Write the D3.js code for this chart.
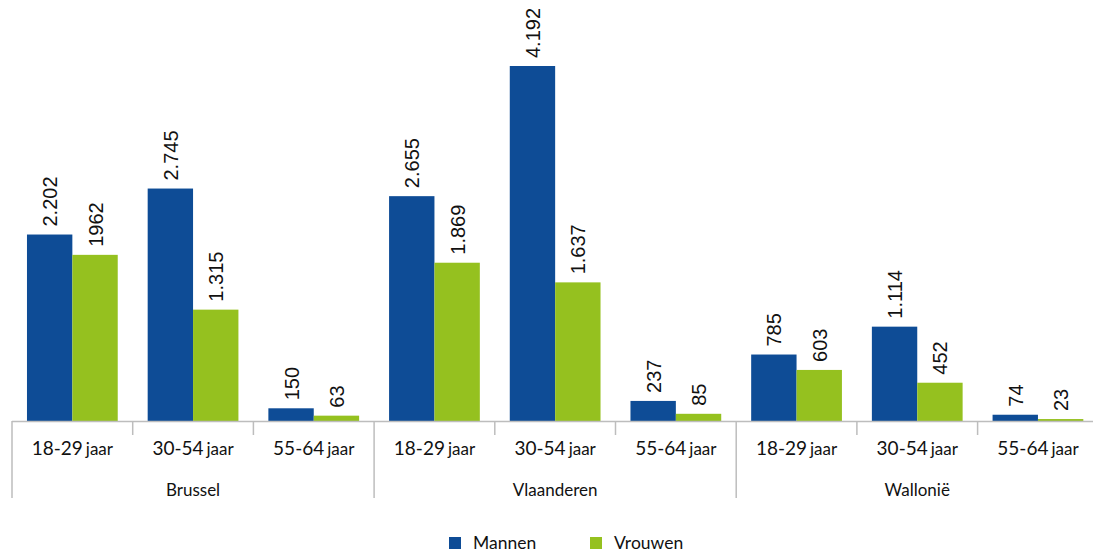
<!DOCTYPE html>
<html><head><meta charset="utf-8">
<script src="https://cdn.jsdelivr.net/npm/d3@7"></script>
<style>body{margin:0;background:#fff}svg{display:block}</style>
</head><body>
<svg id="c" width="1093" height="552"></svg>
<script>
const regions = ["Brussel", "Vlaanderen", "Wallonië"];
const ageGroups = ["18-29", "30-54", "55-64"];
const seriesNames = ["Mannen", "Vrouwen"];
const mannen = [2202, 2745, 150, 2655, 4192, 237, 785, 1114, 74];
const vrouwen = [1962, 1315, 63, 1869, 1637, 85, 603, 452, 23];
const mannenLabels = ["2.202", "2.745", "150", "2.655", "4.192", "237", "785", "1.114", "74"];
const vrouwenLabels = ["1962", "1.315", "63", "1.869", "1.637", "85", "603", "452", "23"];

const colors = ["#0E4C96", "#95C11F"];
const svg = d3.select("#c");
const baseY = 421, left = 12, band = 120.7;

const cats = [];
regions.forEach(r => ageGroups.forEach(a => cats.push(r + "|" + a)));
const x = d3.scaleBand().domain(cats).range([left, left + band * 9]).paddingInner(0).paddingOuter(0);
const xs = d3.scaleBand().domain(seriesNames).range([0, x.bandwidth()]).paddingInner(0).paddingOuter(0.33);
const y = d3.scaleLinear().domain([0, 4192]).range([baseY, 66]);

const data = cats.map((c, i) => ({cat: c, vals: [
  {s: "Mannen", v: mannen[i], l: mannenLabels[i]},
  {s: "Vrouwen", v: vrouwen[i], l: vrouwenLabels[i]}]}));

const g = svg.selectAll("g.cat").data(data).enter().append("g")
  .attr("transform", d => `translate(${x(d.cat)},0)`);
g.selectAll("rect").data(d => d.vals).enter().append("rect")
  .attr("x", d => xs(d.s)).attr("width", xs.bandwidth())
  .attr("y", d => y(d.v)).attr("height", d => baseY - y(d.v))
  .attr("fill", (d, i) => colors[i]);
g.selectAll("text.val").data(d => d.vals).enter().append("text")
  .attr("class", "val")
  .attr("transform", d => `translate(${xs(d.s) + xs.bandwidth() / 2 + 7.5},${y(d.v) - 8}) rotate(-90)`)
  .attr("text-anchor", "start")
  .attr("font-family", "Liberation Sans, Arial, sans-serif")
  .attr("font-size", 20).attr("fill", "#111")
  .text(d => d.l);

// axis
const axisCol = "#BDBDBD";
svg.append("line").attr("x1", left).attr("x2", 1093).attr("y1", baseY + 0.5).attr("y2", baseY + 0.5)
  .attr("stroke", axisCol).attr("stroke-width", 1.5);
cats.forEach((c, i) => {
  const xx = x(c);
  const long = i % 3 === 0;
  svg.append("line").attr("x1", xx).attr("x2", xx).attr("y1", baseY)
    .attr("y2", long ? 498 : 435).attr("stroke", axisCol).attr("stroke-width", 1.5);
  const t = svg.append("text").attr("x", xx + band / 2).attr("y", 455)
    .attr("text-anchor", "middle").attr("font-family", "Lato, sans-serif").attr("fill", "#111");
  t.append("tspan").attr("font-size", 19).text(c.split("|")[1]);
  t.append("tspan").attr("font-size", 17).attr("dx", 3).text("jaar");
});
svg.append("line").attr("x1", left + band * 9).attr("x2", left + band * 9).attr("y1", baseY).attr("y2", 498)
  .attr("stroke", axisCol).attr("stroke-width", 1.5);
regions.forEach((r, i) => {
  svg.append("text").attr("x", left + band * (3 * i + 1.5)).attr("y", 496)
    .attr("text-anchor", "middle").attr("font-family", "Lato, sans-serif")
    .attr("font-size", 17).attr("fill", "#111").text(r);
});

// legend
const leg = [{n: "Mannen", x: 449}, {n: "Vrouwen", x: 590}];
leg.forEach((l, i) => {
  svg.append("rect").attr("x", l.x).attr("y", 537).attr("width", 12).attr("height", 12).attr("fill", colors[i]);
  svg.append("text").attr("x", l.x + 24).attr("y", 549).attr("font-family", "Lato, sans-serif")
    .attr("font-size", 17.5).attr("fill", "#111").text(seriesNames[i]);
});
</script>
</body></html>
